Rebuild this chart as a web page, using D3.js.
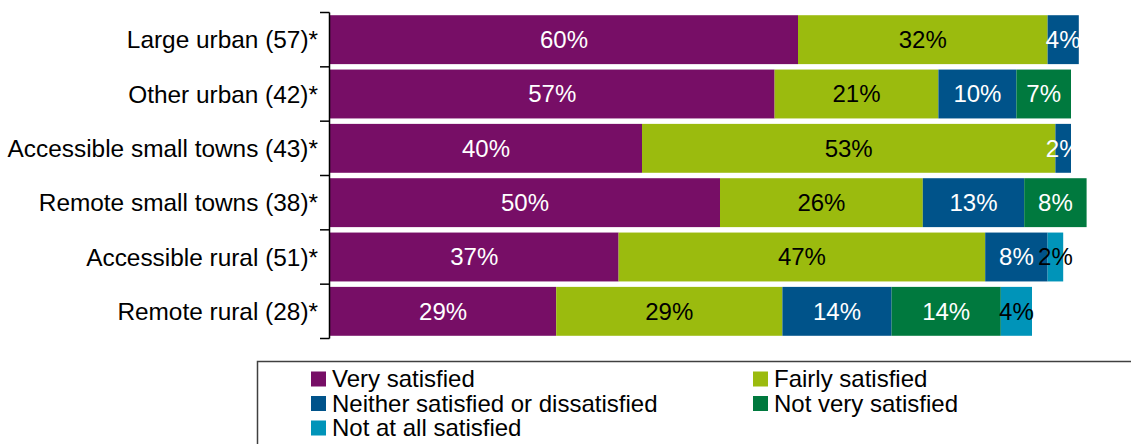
<!DOCTYPE html>
<html>
<head>
<meta charset="utf-8">
<script src="https://cdn.jsdelivr.net/npm/d3@7"></script>
<style>
  html, body { margin: 0; padding: 0; background: #fff; }
  svg { display: block; font-family: "Liberation Sans", Arial, sans-serif; }
</style>
</head>
<body>
<svg id="chart" width="1131" height="444"></svg>
<script>
// Satisfaction by settlement type (base size in brackets)
const categories = [
  "Large urban (57)*",
  "Other urban (42)*",
  "Accessible small towns (43)*",
  "Remote small towns (38)*",
  "Accessible rural (51)*",
  "Remote rural (28)*"
];
const seriesNames = [
  "Very satisfied",
  "Fairly satisfied",
  "Neither satisfied or dissatisfied",
  "Not very satisfied",
  "Not at all satisfied"
];
const verySatisfied    = [60, 57, 40, 50, 37, 29];
const fairlySatisfied  = [32, 21, 53, 26, 47, 29];
const neither          = [4, 10, 2, 13, 8, 14];
const notVerySatisfied = [0, 7, 0, 8, 0, 14];
const notAtAll         = [0, 0, 0, 0, 2, 4];

const seriesValues = [verySatisfied, fairlySatisfied, neither, notVerySatisfied, notAtAll];
const colors = ["#770E66", "#9BBB0E", "#00538A", "#00793E", "#0094B9"];
const labelColors = ["#fff", "#000", "#fff", "#fff", "#000"];

const svg = d3.select("#chart");

const x = d3.scaleLinear().domain([0, 100]).range([330, 1110]);
const y = d3.scaleBand().domain(categories).range([12.5, 338.5])
  .paddingInner(0.1).paddingOuter(0.05);

// stacked rows
const rows = categories.map((c, i) => {
  let acc = 0;
  return seriesValues.map((vals, s) => {
    const seg = { cat: c, s, v: vals[i], x0: acc, x1: acc + vals[i] };
    acc += vals[i];
    return seg;
  }).filter(d => d.v > 0);
});
const segs = rows.flat();

svg.append("g").selectAll("rect").data(segs).join("rect")
  .attr("x", d => x(d.x0))
  .attr("y", d => y(d.cat))
  .attr("width", d => x(d.x1) - x(d.x0))
  .attr("height", y.bandwidth())
  .attr("fill", d => colors[d.s]);

svg.append("g").selectAll("text").data(segs).join("text")
  .attr("x", d => (x(d.x0) + x(d.x1)) / 2)
  .attr("y", d => y(d.cat) + y.bandwidth() / 2)
  .attr("dy", "0.35em")
  .attr("text-anchor", "middle")
  .attr("font-size", 24)
  .attr("fill", d => labelColors[d.s])
  .text(d => d.v + "%");

// category axis with ticks at band boundaries
const axisX = 329.5;
const step = y.step();
const gap = step * y.paddingInner();
const bounds = categories.map(c => y(c) - gap / 2).concat([y(categories[categories.length - 1]) + y.bandwidth() + gap / 2]);
const ax = svg.append("g");
ax.append("line")
  .attr("x1", axisX).attr("x2", axisX)
  .attr("y1", bounds[0]).attr("y2", bounds[bounds.length - 1])
  .attr("stroke", "#000").attr("stroke-width", 1.5);
ax.selectAll("line.tick").data(bounds).join("line").attr("class", "tick")
  .attr("x1", 320).attr("x2", axisX)
  .attr("y1", d => d).attr("y2", d => d)
  .attr("stroke", "#000").attr("stroke-width", 1.5);
ax.selectAll("text").data(categories).join("text")
  .attr("x", 318)
  .attr("y", d => y(d) + y.bandwidth() / 2)
  .attr("dy", "0.35em")
  .attr("text-anchor", "end")
  .attr("font-size", 24.4)
  .attr("fill", "#000")
  .text(d => d);

// legend
const lg = svg.append("g");
lg.append("rect")
  .attr("x", 257.5).attr("y", 361.5)
  .attr("width", 900).attr("height", 120)
  .attr("fill", "#fff").attr("stroke", "#404040").attr("stroke-width", 1.5);
const legendPos = [
  [311, 379], [753, 379],
  [311, 403.5], [753, 403.5],
  [311, 428]
];
const order = [0, 1, 2, 3, 4];
const items = lg.selectAll("g.item").data(order).join("g").attr("class", "item")
  .attr("transform", (d, i) => `translate(${legendPos[i][0]},${legendPos[i][1]})`);
items.append("rect")
  .attr("x", 0).attr("y", -7.5).attr("width", 15).attr("height", 15)
  .attr("fill", d => colors[d]);
items.append("text")
  .attr("x", 21).attr("y", 0).attr("dy", "0.35em")
  .attr("font-size", 24)
  .attr("fill", "#000")
  .text(d => seriesNames[d]);
</script>
</body>
</html>
